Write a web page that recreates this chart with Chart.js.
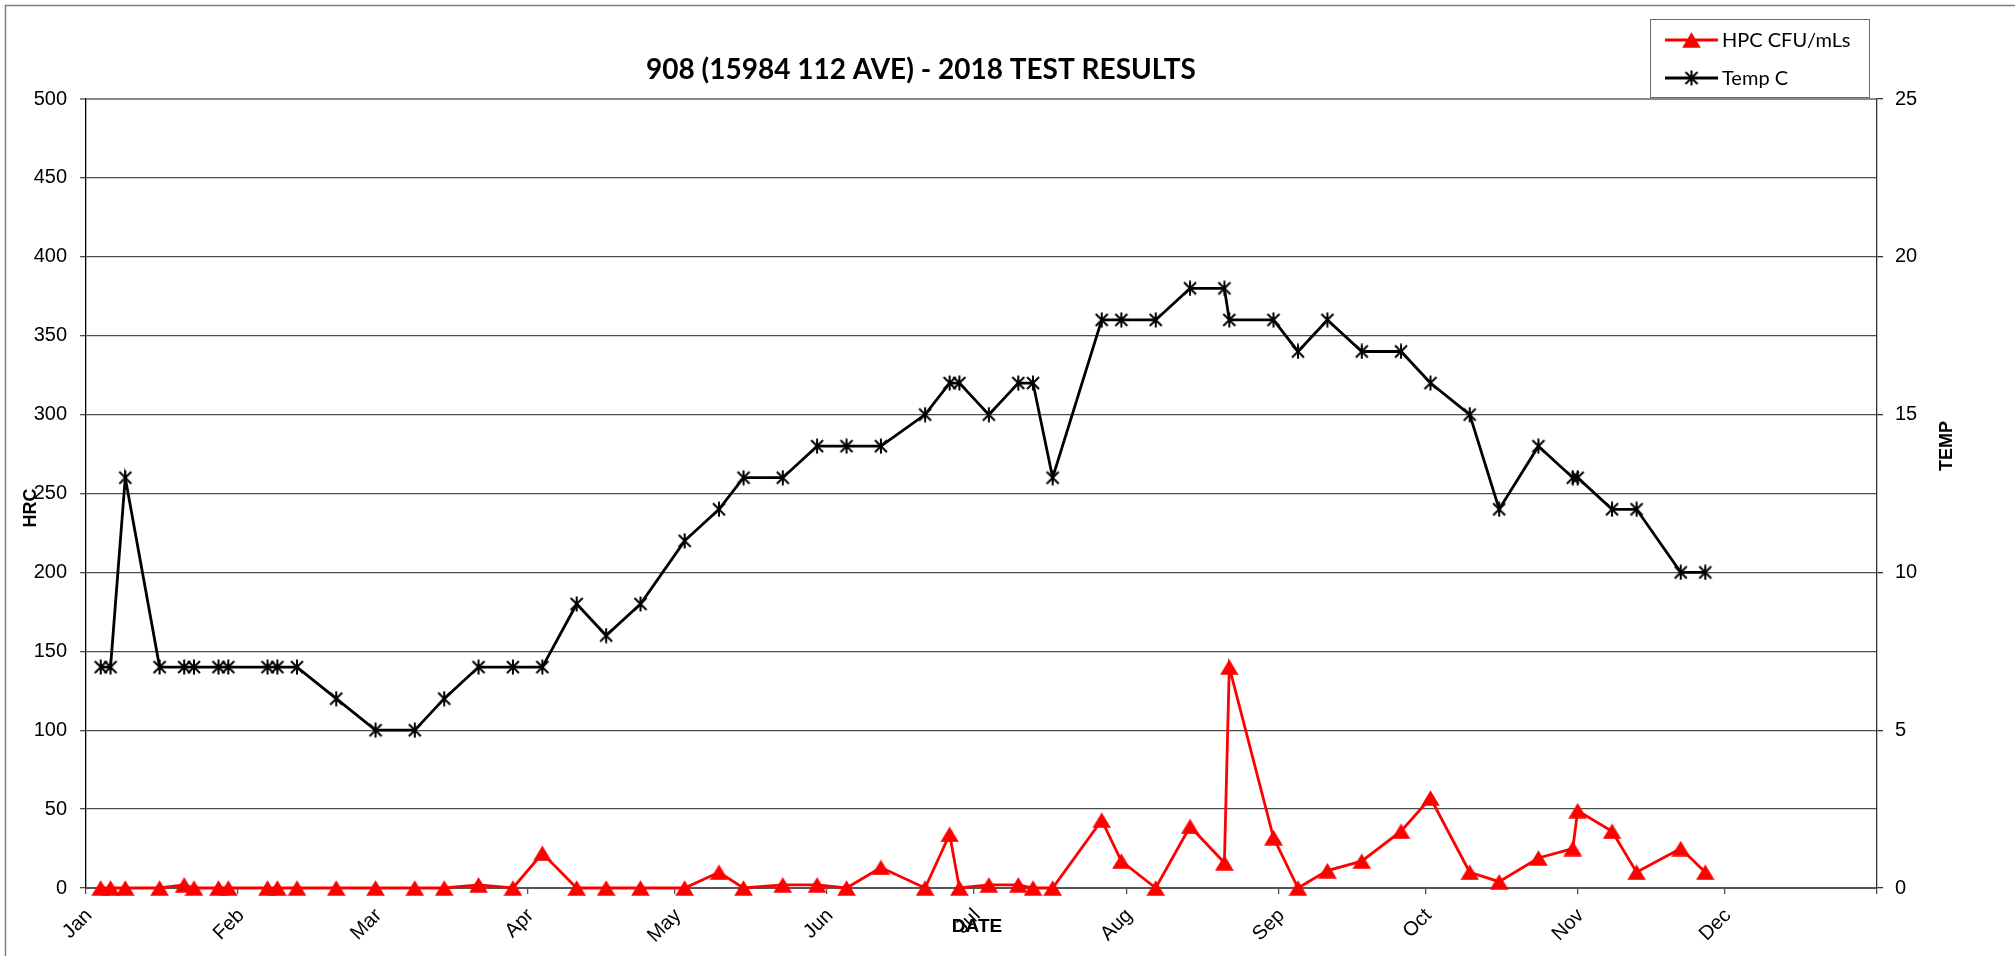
<!DOCTYPE html>
<html>
<head>
<meta charset="utf-8">
<script src="https://cdn.jsdelivr.net/npm/chart.js@4/dist/chart.umd.min.js"></script>
<style>
html, body { margin: 0; padding: 0; background: #ffffff; }
#wrap { width: 2015px; height: 956px; position: relative; }
canvas { display: block; }
</style>
</head>
<body>
<div id="wrap"><canvas id="c" width="2015" height="956"></canvas></div>
<script>
// ---------------- DATA ----------------
const chartTitle = '908 (15984 112 AVE) - 2018 TEST RESULTS';
const seriesNames = ['HPC CFU/mLs', 'Temp C'];
const axisTitles = { left: 'HRC', right: 'TEMP', bottom: 'DATE' };

const sampleDates = [
  '2018-01-04','2018-01-06','2018-01-09','2018-01-16','2018-01-21','2018-01-23','2018-01-28','2018-01-30',
  '2018-02-07','2018-02-09','2018-02-13','2018-02-21',
  '2018-03-01','2018-03-09','2018-03-15','2018-03-22','2018-03-29',
  '2018-04-04','2018-04-11','2018-04-17','2018-04-24',
  '2018-05-03','2018-05-10','2018-05-15','2018-05-23','2018-05-30',
  '2018-06-05','2018-06-12','2018-06-21','2018-06-26','2018-06-28',
  '2018-07-04','2018-07-10','2018-07-13','2018-07-17','2018-07-27','2018-07-31',
  '2018-08-07','2018-08-14','2018-08-21','2018-08-22','2018-08-31',
  '2018-09-05','2018-09-11','2018-09-18','2018-09-26',
  '2018-10-02','2018-10-10','2018-10-16','2018-10-24','2018-10-31',
  '2018-11-01','2018-11-08','2018-11-13','2018-11-22','2018-11-27'
];

const hpcValues = [
  0, 0, 0, 0, 2, 0, 0, 0,
  0, 0, 0, 0,
  0, 0, 0, 2, 0,
  22, 0, 0, 0,
  0, 10, 0, 2, 2,
  0, 13, 0, 34, 0,
  2, 2, 0, 0, 43, 17,
  0, 39, 16, 140, 32,
  0, 11, 17, 36,
  57, 10, 4, 19, 25,
  49, 36, 10, 25, 10
];

const tempValues = [
  7, 7, 13, 7, 7, 7, 7, 7,
  7, 7, 7, 6,
  5, 5, 6, 7, 7,
  7, 9, 8, 9,
  11, 12, 13, 13, 14,
  14, 14, 15, 16, 16,
  15, 16, 16, 13, 18, 18,
  18, 19, 19, 18, 18,
  17, 18, 17, 17,
  16, 15, 12, 14, 13,
  13, 12, 12, 10, 10
];

const monthLabels = ['Jan','Feb','Mar','Apr','May','Jun','Jul','Aug','Sep','Oct','Nov','Dec'];
const monthStarts = [
  '2018-01-01','2018-02-01','2018-03-01','2018-04-01','2018-05-01','2018-06-01',
  '2018-07-01','2018-08-01','2018-09-01','2018-10-01','2018-11-01','2018-12-01','2019-01-01'
];
const hrcRange = [0, 500];
const hrcStep = 50;
const tempRange = [0, 25];
const tempStep = 5;

// ---------------- HELPERS ----------------
const BASE = Date.UTC(2018, 0, 1);
function toDay(s) {
  const p = s.split('-').map(Number);
  return (Date.UTC(p[0], p[1] - 1, p[2]) - BASE) / 86400000;
}
const xDays = sampleDates.map(toDay);
const tickDays = monthStarts.map(toDay);

function makeStar() {
  const c = document.createElement('canvas');
  c.width = 16; c.height = 16;
  const g = c.getContext('2d');
  g.strokeStyle = '#000';
  g.lineWidth = 2;
  g.beginPath();
  g.moveTo(2, 2); g.lineTo(14, 14);
  g.moveTo(14, 2); g.lineTo(2, 14);
  g.moveTo(8, 0.5); g.lineTo(8, 15.5);
  g.stroke();
  return c;
}
function makeTri() {
  const c = document.createElement('canvas');
  c.width = 19; c.height = 16;
  const g = c.getContext('2d');
  g.fillStyle = '#ff0000';
  g.beginPath();
  g.moveTo(9.5, 0.2); g.lineTo(18.8, 15.8); g.lineTo(0.2, 15.8);
  g.closePath();
  g.fill();
  return c;
}
const starImg = makeStar();
const triImg = makeTri();

const tickFont = { family: "'Liberation Sans', Arial, sans-serif", size: 20 };

const decor = {
  id: 'decor',
  afterDraw(chart) {
    const ctx = chart.ctx;
    ctx.save();
    // outer frame
    ctx.strokeStyle = '#7f7f7f';
    ctx.lineWidth = 1.5;
    ctx.beginPath();
    ctx.moveTo(5.5, 960); ctx.lineTo(5.5, 5.5); ctx.lineTo(2020, 5.5);
    ctx.stroke();

    // title
    ctx.fillStyle = '#000';
    ctx.font = "bold 28px Lato, 'Liberation Sans', sans-serif";
    ctx.textAlign = 'center';
    ctx.textBaseline = 'alphabetic';
    ctx.fillText(chartTitle, 921, 79);

    // axis titles
    ctx.font = "bold 18px 'Liberation Sans', Arial, sans-serif";
    ctx.textBaseline = 'middle';
    ctx.save();
    ctx.translate(31, 508); ctx.rotate(-Math.PI / 2);
    ctx.fillText(axisTitles.left, 0, 0);
    ctx.restore();
    ctx.save();
    ctx.translate(1947, 446); ctx.rotate(-Math.PI / 2);
    ctx.fillText(axisTitles.right, 0, 0);
    ctx.restore();
    ctx.font = "bold 19px 'Liberation Sans', Arial, sans-serif";
    ctx.fillText(axisTitles.bottom, 977, 927);

    // legend
    ctx.strokeStyle = '#6b6b6b';
    ctx.lineWidth = 1;
    ctx.fillStyle = '#fff';
    ctx.fillRect(1650.5, 19.5, 219, 78);
    ctx.strokeRect(1650.5, 19.5, 219, 78);
    const rows = [
      { y: 40, color: '#ff0000', img: triImg, text: seriesNames[0] },
      { y: 78, color: '#000000', img: starImg, text: seriesNames[1] }
    ];
    rows.forEach(r => {
      ctx.strokeStyle = r.color;
      ctx.lineWidth = 2.8;
      ctx.beginPath();
      ctx.moveTo(1665, r.y); ctx.lineTo(1718, r.y);
      ctx.stroke();
      ctx.drawImage(r.img, 1691.5 - r.img.width / 2, r.y - r.img.height / 2);
      ctx.fillStyle = '#000';
      ctx.font = "20px Lato, 'Liberation Sans', sans-serif";
      ctx.textAlign = 'left';
      ctx.textBaseline = 'middle';
      ctx.fillText(r.text, 1722, r.y + 1);
    });
    ctx.restore();
  }
};

new Chart(document.getElementById('c').getContext('2d'), {
  type: 'line',
  data: {
    datasets: [
      {
        label: seriesNames[0],
        data: xDays.map((x, i) => ({ x: x, y: hpcValues[i] })),
        yAxisID: 'yL',
        borderColor: '#ff0000',
        backgroundColor: '#ff0000',
        borderWidth: 2.8,
        pointStyle: triImg,
        pointRadius: 9,
        tension: 0,
        fill: false,
        clip: false
      },
      {
        label: seriesNames[1],
        data: xDays.map((x, i) => ({ x: x, y: tempValues[i] })),
        yAxisID: 'yR',
        borderColor: '#000000',
        backgroundColor: '#000000',
        borderWidth: 2.8,
        pointStyle: starImg,
        pointRadius: 8,
        tension: 0,
        fill: false,
        clip: false
      }
    ]
  },
  options: {
    responsive: false,
    animation: false,
    devicePixelRatio: 1,
    layout: { padding: { top: 99, left: 0, right: 0, bottom: 0 } },
    plugins: {
      legend: { display: false },
      title: { display: false },
      tooltip: { enabled: false }
    },
    scales: {
      x: {
        type: 'linear',
        position: 'bottom',
        min: tickDays[0],
        max: tickDays[tickDays.length - 1],
        afterBuildTicks: s => { s.ticks = tickDays.map(v => ({ value: v })); },
        afterFit: s => { s.height = 68; },
        ticks: {
          autoSkip: false,
          minRotation: 45,
          maxRotation: 45,
          padding: 10,
          labelOffset: 3,
          color: '#000',
          font: tickFont,
          callback: (v, i) => (monthLabels[i] !== undefined ? monthLabels[i] : '')
        },
        grid: { drawOnChartArea: false, tickLength: 6, color: '#555', lineWidth: 1.3 },
        border: { display: true, color: '#555', width: 2 }
      },
      yL: {
        position: 'left',
        min: hrcRange[0],
        max: hrcRange[1],
        afterFit: s => { s.width = 86; },
        ticks: { stepSize: hrcStep, padding: 13, color: '#000', font: tickFont },
        grid: {
          color: c => (c.tick && c.tick.value === hrcRange[1] ? '#8a8a8a' : '#4d4d4d'),
          lineWidth: c => (c.tick && c.tick.value === hrcRange[1] ? 2 : 1.3),
          tickLength: 6
        },
        border: { display: true, color: '#000', width: 1.3 }
      },
      yR: {
        position: 'right',
        min: tempRange[0],
        max: tempRange[1],
        afterFit: s => { s.width = 138; },
        ticks: { stepSize: tempStep, padding: 12, color: '#000', font: tickFont },
        grid: { drawOnChartArea: false, tickLength: 6, color: '#333', lineWidth: 1.3 },
        border: { display: true, color: '#333', width: 1.3 }
      }
    }
  },
  plugins: [decor]
});
</script>
</body>
</html>
